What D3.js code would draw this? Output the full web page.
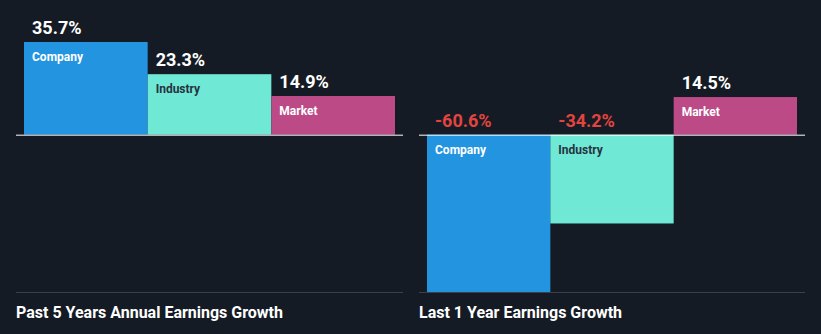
<!DOCTYPE html>
<html><head><meta charset="utf-8">
<script src="https://cdn.jsdelivr.net/npm/d3@7"></script>
<style>html,body{margin:0;padding:0;background:#151b24;}svg{display:block;}</style>
</head><body><svg id="c" width="821" height="334"></svg>
<script>
const categories = ["Company", "Industry", "Market"];
const past5Years = [35.7, 23.3, 14.9];
const last1Year = [-60.6, -34.2, 14.5];
const panelTitles = ["Past 5 Years Annual Earnings Growth", "Last 1 Year Earnings Growth"];
const barColors = ["#2394df", "#6fe8d5", "#bb4a86"];
const labelColors = ["#ffffff", "#27323f", "#ffffff"];

const svg = d3.select("#c");
svg.append("rect").attr("width", 821).attr("height", 334).attr("fill", "#151b24");

const all = past5Years.concat(last1Year);
const y = d3.scaleLinear().domain([d3.min(all), d3.max(all)]).range([292, 42]);

const panels = [
  {values: past5Years, title: panelTitles[0], x0: 16, x1: 403},
  {values: last1Year, title: panelTitles[1], x0: 419, x1: 805}
];

panels.forEach(p => {
  const g = svg.append("g");
  const x = d3.scaleBand().domain(categories).range([p.x0 + 8, p.x1 - 8]).padding(0);
  const data = categories.map((c, i) => ({c, v: p.values[i], i}));

  g.selectAll("rect.bar").data(data).enter().append("rect")
    .attr("class", "bar")
    .attr("x", d => x(d.c))
    .attr("width", x.bandwidth())
    .attr("y", d => Math.min(y(d.v), y(0)))
    .attr("height", d => Math.abs(y(d.v) - y(0)))
    .attr("fill", d => barColors[d.i]);

  g.selectAll("text.name").data(data).enter().append("text")
    .attr("x", d => x(d.c) + 8)
    .attr("y", d => (d.v >= 0 ? y(d.v) : y(0)) + 19)
    .attr("fill", d => labelColors[d.i])
    .attr("font-family", "Roboto, sans-serif")
    .attr("font-weight", "bold")
    .attr("font-size", 12)
    .text(d => d.c);

  g.selectAll("text.val").data(data).enter().append("text")
    .attr("x", d => x(d.c) + 8)
    .attr("y", d => (d.v >= 0 ? y(d.v) : y(0)) - 8)
    .attr("fill", d => d.v >= 0 ? "#ffffff" : "#e2443f")
    .attr("font-family", "Roboto, sans-serif")
    .attr("font-weight", "bold")
    .attr("font-size", 18)
    .text(d => d.v.toFixed(1) + "%");

  g.append("line").attr("x1", p.x0).attr("x2", p.x1)
    .attr("y1", y(0) + 0.5).attr("y2", y(0) + 0.5)
    .attr("stroke", "#ffffff").attr("stroke-width", 1);

  g.append("line").attr("x1", p.x0).attr("x2", p.x1)
    .attr("y1", 292.5).attr("y2", 292.5)
    .attr("stroke", "#3b404b").attr("stroke-width", 1);

  g.append("text").attr("x", p.x0).attr("y", 318)
    .attr("fill", "#ffffff")
    .attr("font-family", "Roboto, sans-serif")
    .attr("font-weight", "bold")
    .attr("font-size", 16)
    .text(p.title);
});
</script></body></html>
